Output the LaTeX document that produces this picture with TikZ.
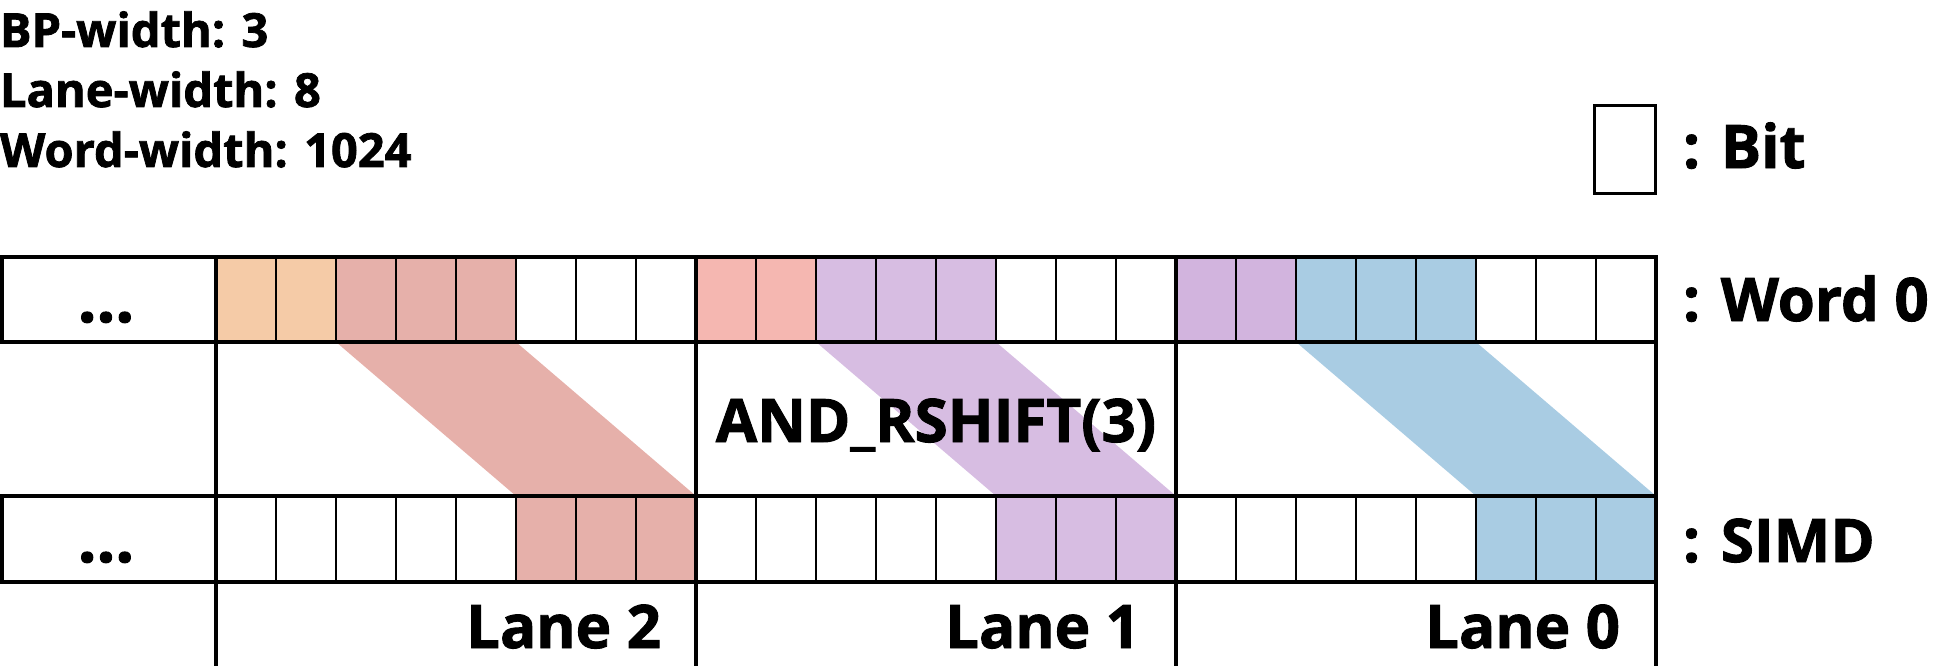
\documentclass[tikz,border=0pt]{standalone}
\usepackage{fontspec}
\setmainfont{Open Sans}[BoldFeatures={FakeBold=1.6}]
\definecolor{peach}{HTML}{F5CBA7}
\definecolor{rose}{HTML}{E6B0AA}
\definecolor{pinkc}{HTML}{F5B7B1}
\definecolor{lilac}{HTML}{D7BDE2}
\definecolor{mauve}{HTML}{D2B4DE}
\definecolor{sky}{HTML}{A9CCE3}
\begin{document}
\begin{tikzpicture}[x=1pt,y=-1pt,
  every node/.style={inner sep=0pt, outer sep=0pt},
  cell/.style={draw, line width=2.8pt, minimum width=60pt, minimum height=85pt},
  thickline/.style={line width=3.8pt},
  small/.style={font=\fontsize{47}{56}\selectfont\bfseries},
  big/.style={font=\fontsize{60}{72}\selectfont\bfseries},
  dots/.style={font=\fontsize{66}{72}\selectfont\bfseries}]
\useasboundingbox (0,0) rectangle (1938,666);
% fills of the word row
\fill[peach] (216,257) rectangle (336,342);
\fill[rose]  (336,257) rectangle (516,342);
\fill[pinkc] (696,257) rectangle (816,342);
\fill[lilac] (816,257) rectangle (996,342);
\fill[mauve] (1176,257) rectangle (1296,342);
\fill[sky]   (1296,257) rectangle (1476,342);
% fills of the SIMD row
\fill[rose]  (516,496) rectangle (696,582);
\fill[lilac] (996,496) rectangle (1176,582);
\fill[sky]   (1476,496) rectangle (1656,582);
% shift bands
\fill[rose]  (336,342) -- (516,342) -- (696,496) -- (516,496) -- cycle;
\fill[lilac] (816,342) -- (996,342) -- (1176,496) -- (996,496) -- cycle;
\fill[sky]   (1296,342) -- (1476,342) -- (1656,496) -- (1476,496) -- cycle;
% cells
\foreach \lx [count=\li] in {216,696,1176}{
  \foreach \i in {0,...,7}{
    \node[cell] (w\li c\i) at ({\lx+30+60*\i},299.5) {};
    \node[cell] (s\li c\i) at ({\lx+30+60*\i},539) {};
  }
}
% thick outlines
\draw[thickline] (1.9,257) rectangle (1656,342);
\draw[thickline] (1.9,496) rectangle (1656,582);
\foreach \x in {216,696,1176,1656}{
  \draw[thickline] (\x,257) -- (\x,666);
}
% dots
\node[dots, anchor=base] (wdots) at (106,322) {...};
\node[dots, anchor=base] (sdots) at (106,562) {...};
% operation
\node[big, anchor=base] (op) at (936,442) {AND\_RSHIFT(3)};
% lane labels
\node[big, anchor=base east] (lane2) at (661,648) {Lane 2};
\node[big, anchor=base east] (lane1) at (1140,648) {Lane 1};
\node[big, anchor=base east] (lane0) at (1620,648) {Lane 0};
% right labels
\node[big, anchor=base west] (lword) at (1683,321) {: Word 0};
\node[big, anchor=base west] (lsimd) at (1683,562) {: SIMD};
% legend
\draw[line width=3pt] (1594,106) rectangle (1655,193);
\node[big, anchor=base west] (lbit) at (1683,168) {: Bit};
% parameters
\node[small, anchor=base west] (bp) at (0,47) {BP-width: 3};
\node[small, anchor=base west] (lw) at (0,107) {Lane-width: 8};
\node[small, anchor=base west] (ww) at (0,167) {Word-width: 1024};
\end{tikzpicture}
\end{document}
